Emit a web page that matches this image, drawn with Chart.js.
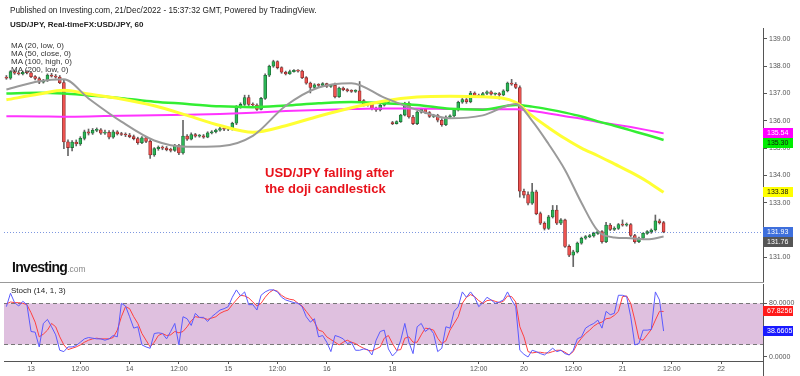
<!DOCTYPE html>
<html>
<head>
<meta charset="utf-8">
<script src="https://cdn.jsdelivr.net/npm/chart.js@4.4.0/dist/chart.umd.min.js"></script>
<style>
  body { margin: 0; background: #fff; }
  #wrap { position: relative; width: 800px; height: 376px; overflow: hidden; font-family: "Liberation Sans", Arial, sans-serif; }
  canvas { position: absolute; left: 0; }
  .t { position: absolute; white-space: nowrap; color: #222; line-height: 1; }
</style>
</head>
<body>
<div id="wrap">
  <canvas id="price" width="800" height="283" style="top:0"></canvas>
  <canvas id="stoch" width="800" height="93" style="top:283px"></canvas>
  <div style="position:absolute;left:0;top:282px;width:764px;height:1px;background:#999"></div>
  <div style="position:absolute;left:763px;top:360px;width:1px;height:16px;background:#555"></div>
  <div class="t" style="left:10px;top:7px;font-size:8.2px">Published on Investing.com, 21/Dec/2022 - 15:37:32 GMT, Powered by TradingView.</div>
  <div class="t" style="left:10px;top:21px;font-size:8px;font-weight:bold">USD/JPY, Real-timeFX:USD/JPY, 60</div>
  <div class="t" style="left:11px;top:42px;font-size:8px;color:#333">MA (20, low, 0)</div>
  <div class="t" style="left:11px;top:50px;font-size:8px;color:#333">MA (50, close, 0)</div>
  <div class="t" style="left:11px;top:58px;font-size:8px;color:#333">MA (100, high, 0)</div>
  <div class="t" style="left:11px;top:66px;font-size:8px;color:#333">MA (200, low, 0)</div>
  <div class="t" style="left:265px;top:165px;font-size:13px;font-weight:bold;color:#e8121b;line-height:16px">USD/JPY falling after<br>the doji candlestick</div>
  <div class="t" style="left:12px;top:260px;font-size:14px;font-weight:bold;color:#111;letter-spacing:-0.7px">Investing<span style="font-size:8.5px;font-weight:normal;color:#888;letter-spacing:0">.com</span></div>
  <div class="t" style="left:11px;top:287px;font-size:8px;color:#222">Stoch (14, 1, 3)</div>
</div>
<script>
// hourly candles, 12 Dec 18:00 .. 21 Dec 10:00: [open, high, low, close]
const ohlc = [
  [137.60,137.66,137.52,137.56],[137.56,137.84,137.52,137.80],[137.80,137.86,137.70,137.75],[137.75,137.80,137.68,137.72],
  [137.72,137.82,137.68,137.78],[137.78,137.84,137.72,137.76],[137.76,137.80,137.58,137.62],[137.62,137.66,137.50,137.55],
  [137.55,137.60,137.36,137.42],[137.42,137.52,137.38,137.48],[137.48,137.72,137.44,137.68],[137.68,137.74,137.60,137.64],
  [137.64,137.70,137.56,137.60],[137.60,137.66,137.36,137.40],[137.40,137.48,134.98,135.23],[135.23,135.30,134.72,135.02],
  [135.02,135.28,134.90,135.22],[135.22,135.30,135.08,135.15],[135.15,135.42,135.10,135.36],[135.36,135.66,135.30,135.60],
  [135.60,135.70,135.48,135.55],[135.55,135.72,135.50,135.65],[135.65,135.74,135.60,135.67],[135.67,135.72,135.50,135.55],
  [135.55,135.66,135.50,135.58],[135.58,135.64,135.34,135.40],[135.40,135.66,135.36,135.60],[135.60,135.64,135.48,135.52],
  [135.52,135.58,135.46,135.50],[135.50,135.56,135.42,135.48],[135.48,135.54,135.38,135.42],[135.42,135.48,135.30,135.35],
  [135.35,135.40,135.14,135.20],[135.20,135.42,135.16,135.38],[135.38,135.42,135.20,135.25],[135.25,135.30,134.62,134.75],
  [134.75,135.02,134.70,134.98],[134.98,135.08,134.92,135.03],[135.03,135.08,134.94,135.00],[135.00,135.06,134.90,134.94],
  [134.94,135.00,134.86,134.92],[134.92,135.14,134.88,135.10],[135.10,135.14,134.76,134.82],[134.82,136.02,134.78,135.44],
  [135.44,135.50,135.28,135.33],[135.33,135.56,135.30,135.50],[135.50,135.54,135.40,135.44],[135.44,135.50,135.40,135.45],
  [135.45,135.50,135.36,135.40],[135.40,135.60,135.38,135.56],[135.56,135.64,135.52,135.60],[135.60,135.70,135.56,135.66],
  [135.66,135.76,135.62,135.72],[135.72,135.76,135.64,135.69],[135.69,135.75,135.64,135.70],[135.70,135.95,135.66,135.91],
  [135.91,136.56,135.86,136.50],[136.50,136.66,136.46,136.60],[136.60,136.94,136.56,136.85],[136.85,136.94,136.56,136.60],
  [136.60,136.66,136.50,136.58],[136.58,136.62,136.38,136.42],[136.42,136.86,136.40,136.82],[136.82,137.72,136.78,137.67],
  [137.67,138.04,137.62,138.00],[138.00,138.22,137.96,138.17],[138.17,138.20,137.90,137.95],[137.95,137.98,137.74,137.78],
  [137.78,137.82,137.68,137.72],[137.72,137.86,137.70,137.80],[137.80,137.88,137.78,137.85],[137.85,137.88,137.78,137.82],
  [137.82,137.86,137.54,137.58],[137.58,137.62,137.34,137.38],[137.38,137.42,137.02,137.22],[137.22,137.36,137.18,137.32],
  [137.32,137.36,137.24,137.30],[137.30,137.40,137.26,137.36],[137.36,137.38,137.22,137.26],[137.26,137.34,137.22,137.30],
  [137.30,137.38,136.84,136.88],[136.88,137.24,136.86,137.20],[137.20,137.24,137.10,137.14],[137.14,137.18,137.06,137.10],
  [137.10,137.14,137.04,137.08],[137.08,137.14,137.04,137.10],[137.10,137.44,136.70,136.74],[136.74,136.78,136.54,136.58],
  [136.58,136.68,136.54,136.62],[136.62,136.66,136.40,136.45],[136.45,136.50,136.34,136.40],[136.40,136.60,136.36,136.57],
  [136.57,136.72,136.54,136.68],[136.68,136.78,136.64,136.74],[135.94,135.98,135.86,135.90],[135.90,136.00,135.88,135.97],
  [135.97,136.24,135.94,136.21],[136.21,136.68,136.18,136.64],[136.64,136.70,136.10,136.14],[136.14,136.20,135.86,135.90],
  [135.90,136.36,135.86,136.32],[136.32,136.46,136.28,136.42],[136.42,136.46,136.26,136.30],[136.30,136.34,136.12,136.16],
  [136.16,136.24,136.12,136.20],[136.20,136.24,135.96,136.02],[136.02,136.08,135.80,135.86],[135.86,136.18,135.82,136.14],
  [136.14,136.22,136.10,136.18],[136.18,136.44,136.14,136.40],[136.40,136.72,136.36,136.68],[136.68,136.82,136.64,136.78],
  [136.78,136.82,136.64,136.70],[136.70,137.08,136.66,137.02],[137.02,137.06,136.88,136.92],[136.92,136.98,136.86,136.90],
  [136.90,137.04,136.88,137.00],[137.00,137.10,136.96,137.06],[137.06,137.10,136.94,136.98],[136.98,137.02,136.94,137.00],
  [137.00,137.04,136.80,136.95],[136.95,137.14,136.92,137.10],[137.10,137.42,137.06,137.38],[137.38,137.52,137.30,137.34],
  [137.34,137.40,137.18,137.22],[137.22,137.28,133.20,133.42],[133.42,133.50,133.18,133.28],[133.30,133.40,132.92,132.98],
  [132.98,133.71,132.94,133.40],[133.40,133.46,132.56,132.60],[132.60,132.66,132.20,132.25],[132.25,132.30,132.00,132.06],
  [132.06,132.54,132.02,132.48],[132.48,132.90,132.44,132.73],[132.73,132.90,132.20,132.25],[132.25,132.42,132.20,132.37],
  [132.37,132.40,131.36,131.40],[131.40,131.46,131.02,131.08],[131.08,131.26,130.66,131.20],[131.20,131.56,131.16,131.52],
  [131.52,131.74,131.48,131.70],[131.70,131.80,131.66,131.76],[131.76,131.84,131.72,131.78],[131.78,131.92,131.74,131.88],
  [131.88,131.98,131.84,131.94],[131.94,131.98,131.52,131.57],[131.57,132.28,131.54,132.18],[132.18,132.24,131.98,132.02],
  [132.02,132.12,131.98,132.06],[132.06,132.24,132.02,132.20],[132.20,132.37,132.14,132.18],[132.18,132.26,132.14,132.20],
  [132.20,132.24,131.76,131.80],[131.80,131.84,131.52,131.57],[131.57,131.74,131.54,131.70],[131.70,131.90,131.66,131.88],
  [131.88,131.98,131.84,131.94],[131.94,132.04,131.88,132.00],[132.00,132.55,131.96,132.34],[132.34,132.40,132.22,132.27],
  [132.27,132.32,131.90,131.93]
];

// moving averages read at these bar positions
const maIdx  = [0, 8, 14, 20, 28, 36, 44, 52, 60, 68, 76, 84, 92, 100, 108, 116, 124, 128, 132, 136, 140, 144, 148, 152, 156, 160];
const ma20   = [137.15,137.45,137.52,136.82,135.97,135.28,135.05,135.07,135.45,136.55,137.22,137.38,136.85,136.40,136.09,136.20,136.62,136.00,135.15,134.20,133.00,131.97,131.73,131.70,131.66,131.76];
const ma50   = [136.77,136.98,137.12,136.98,136.80,136.55,136.20,135.83,135.58,135.82,136.17,136.48,136.73,136.87,136.90,136.88,136.68,136.18,135.75,135.35,135.00,134.72,134.42,134.12,133.78,133.38];
const ma100  = [137.00,137.03,137.00,136.93,136.83,136.70,136.62,136.53,136.50,136.56,136.64,136.69,136.64,136.58,136.44,136.41,136.58,136.52,136.42,136.30,136.16,135.98,135.82,135.65,135.48,135.30];
const ma200  = [136.17,136.16,136.15,136.16,136.19,136.20,136.22,136.25,136.30,136.36,136.40,136.43,136.45,136.45,136.43,136.42,136.42,136.36,136.27,136.17,136.08,135.96,135.87,135.77,135.66,135.54];

// stochastic %K and %D, one value per candle
const stochK = [75,95,81,76,83,78,38,37,15,50,56,45,33,10,8,15,15,17,22,27,29,28,27,27,25,27,32,30,80,76,
  60,43,45,18,15,13,35,36,35,27,38,50,18,60,57,47,65,59,59,53,60,65,70,72,75,89,100,91,97,78,
  78,70,92,97,100,100,97,89,85,83,81,80,75,60,52,57,30,32,22,8,32,30,27,20,22,10,10,12,11,3,
  25,38,40,12,1.5,8,25,50,22,5,45,50,38,43,35,8,13,45,43,68,75,97,89,97,89,75,81,89,85,80,
  82,85,97,85,75,10,4,0,10,8,5,3,8,13,8,10,5,3,10,27,30,43,47,50,55,43,68,63,65,92,
  92,90,60,18,20,40,40,41,97,85,38.6605];
const stochD = [79,82,81,81,80,78,66,52,30,34,40,50,45,30,18,11,13,15,18,22,25,27,28,27,27,27,29,40,60,75,
  72,60,50,35,25,15,22,32,35,32,33,38,36,38,45,54,60,59,58,56,58,60,65,68,70,78,85,92,91,88,
  82,76,80,89,96,100,98,92,88,86,85,80,76,68,60,52,40,38,30,26,22,18,22,25,22,20,16,13,10,9,
  12,15,28,32,20,10,11,28,30,22,22,33,43,42,40,28,20,24,40,50,60,80,89,93,90,84,80,84,85,83,
  81,83,91,90,82,45,30,8,6,7,7,6,6,8,10,10,7,3,8,20,28,35,40,46,50,52,57,58,62,68,
  90,91,80,55,27,25,33,41,55,68,67.8256];

const priceTicks = [131, 132, 133, 134, 135, 136, 137, 138, 139];
const stochTicks = [0, 80];
const tickIdx  = [6, 18, 30, 42, 54, 66, 78, 94, 115, 126, 138, 150, 162, 174];
const tickText = ['13', '12:00', '14', '12:00', '15', '12:00', '16', '18', '12:00', '20', '12:00', '21', '12:00', '22'];

Chart.defaults.font.family = '"Liberation Sans", Arial, sans-serif';
const AXIS = '#555';
const X_MIN = -0.58, X_MAX = 184.2;

function noPad(s) {
  s.paddingTop = 0; s.paddingBottom = 0; s.paddingLeft = 0; s.paddingRight = 0;
}

function xAxis(show) {
  return {
    type: 'linear', min: X_MIN, max: X_MAX, offset: false, display: show,
    afterBuildTicks: s => { s.ticks = tickIdx.map(v => ({ value: v })); },
    afterFit: s => { if (show) s.height = 15; noPad(s); },
    ticks: { autoSkip: false, maxRotation: 0, font: { size: 7 }, color: AXIS, padding: 1,
      callback: (v, i) => tickText[i] },
    grid: { drawOnChartArea: false, tickLength: 3, color: AXIS },
    border: { color: AXIS }
  };
}

function rightAxis(min, max, ticks, digits) {
  return {
    position: 'right', min, max,
    afterBuildTicks: s => { s.ticks = ticks.map(v => ({ value: v })); },
    afterFit: s => { s.width = 37; noPad(s); },
    ticks: { font: { size: 7 }, color: AXIS, padding: 2, callback: v => v.toFixed(digits) },
    grid: { drawOnChartArea: false, tickLength: 4, color: AXIS },
    border: { color: AXIS }
  };
}

// coloured value boxes on the right axis
function drawTags(chart, tags) {
  const { ctx, chartArea, scales } = chart;
  const items = tags.map(t => ({ ...t, y: scales.y.getPixelForValue(t.v) })).sort((a, b) => a.y - b.y);
  for (let k = 1; k < items.length; k++) {
    if (items[k].y < items[k - 1].y + 10) items[k].y = items[k - 1].y + 10;
  }
  ctx.save();
  ctx.font = '7px "Liberation Sans", Arial, sans-serif';
  ctx.textBaseline = 'middle';
  items.forEach(t => {
    ctx.fillStyle = t.bg;
    ctx.fillRect(chartArea.right, Math.round(t.y) - 5, 30, 10);
    ctx.fillStyle = t.fg;
    ctx.fillText(t.v.toFixed(t.d), chartArea.right + 4, Math.round(t.y) + 0.5);
  });
  ctx.restore();
}

const lastClose = ohlc[ohlc.length - 1][3];
const UP = '#2bb656', DOWN = '#ef5350';

new Chart(document.getElementById('price'), {
  type: 'bar',
  data: {
    datasets: [
      { type: 'line', data: maIdx.map((x, k) => ({ x, y: ma20[k] })), borderColor: '#9a9a9a', borderWidth: 2, pointRadius: 0, cubicInterpolationMode: 'monotone', order: 1 },
      { type: 'line', data: maIdx.map((x, k) => ({ x, y: ma50[k] })), borderColor: '#ffff33', borderWidth: 3, pointRadius: 0, cubicInterpolationMode: 'monotone', order: 2 },
      { type: 'line', data: maIdx.map((x, k) => ({ x, y: ma100[k] })), borderColor: '#33ee33', borderWidth: 2.5, pointRadius: 0, cubicInterpolationMode: 'monotone', order: 3 },
      { type: 'line', data: maIdx.map((x, k) => ({ x, y: ma200[k] })), borderColor: '#ff33ff', borderWidth: 2, pointRadius: 0, cubicInterpolationMode: 'monotone', order: 4 },
      { data: ohlc.map((c, i) => ({ x: i, y: [c[0], c[3]] })), grouped: false, barThickness: 3, minBarLength: 1,
        backgroundColor: ohlc.map(c => c[3] >= c[0] ? UP : DOWN),
        borderColor: ohlc.map(c => c[3] >= c[0] ? '#1d6e36' : '#8e2b2b'), borderWidth: 0.8, borderSkipped: false, order: 5 },
      { data: ohlc.map((c, i) => ({ x: i, y: [c[2], c[1]] })), grouped: false, barThickness: 1, backgroundColor: '#666', order: 6 }
    ]
  },
  options: {
    responsive: false, animation: false,
    layout: { padding: { left: 4, top: 28, right: 0, bottom: 0 } },
    plugins: { legend: { display: false }, tooltip: { enabled: false } },
    scales: { x: xAxis(false), y: rightAxis(130.06, 139.4, priceTicks, 2) }
  },
  plugins: [{
    id: 'lastLine',
    beforeDatasetsDraw(chart) {
      const { ctx, chartArea, scales } = chart;
      const y = Math.round(scales.y.getPixelForValue(lastClose)) + 0.5;
      ctx.save();
      ctx.strokeStyle = '#7d97e0';
      ctx.setLineDash([1, 2]);
      ctx.beginPath(); ctx.moveTo(chartArea.left, y); ctx.lineTo(chartArea.right, y); ctx.stroke();
      ctx.restore();
    },
    afterDraw(chart) {
      drawTags(chart, [
        { v: ma200[ma200.length - 1], bg: '#ff00ff', fg: '#fff', d: 2 },
        { v: ma100[ma100.length - 1], bg: '#00ee00', fg: '#111', d: 2 },
        { v: ma50[ma50.length - 1], bg: '#ffff00', fg: '#111', d: 2 },
        { v: lastClose, bg: '#3e6fdc', fg: '#fff', d: 2 },
        { v: ma20[ma20.length - 1], bg: '#555', fg: '#fff', d: 2 }
      ]);
    }
  }]
});

new Chart(document.getElementById('stoch'), {
  type: 'line',
  data: {
    datasets: [
      { data: stochK.map((v, i) => ({ x: i, y: v })), borderColor: '#5a5aff', borderWidth: 1, pointRadius: 0, tension: 0 },
      { data: stochD.map((v, i) => ({ x: i, y: v })), borderColor: '#ff4040', borderWidth: 1, pointRadius: 0, tension: 0 }
    ]
  },
  options: {
    responsive: false, animation: false,
    layout: { padding: { left: 4, top: 1, right: 0, bottom: 0 } },
    plugins: { legend: { display: false }, tooltip: { enabled: false } },
    scales: { x: xAxis(true), y: rightAxis(-6, 108.8, stochTicks, 4) }
  },
  plugins: [{
    id: 'band',
    beforeDatasetsDraw(chart) {
      const { ctx, chartArea, scales } = chart;
      const y80 = Math.round(scales.y.getPixelForValue(80)) + 0.5;
      const y20 = Math.round(scales.y.getPixelForValue(20)) + 0.5;
      ctx.save();
      ctx.fillStyle = '#dfc0df';
      ctx.fillRect(chartArea.left, y80, chartArea.right - chartArea.left, y20 - y80);
      ctx.strokeStyle = '#777';
      ctx.setLineDash([4, 3]);
      ctx.beginPath();
      ctx.moveTo(chartArea.left, y80); ctx.lineTo(chartArea.right, y80);
      ctx.moveTo(chartArea.left, y20); ctx.lineTo(chartArea.right, y20);
      ctx.stroke();
      ctx.restore();
    },
    afterDraw(chart) {
      drawTags(chart, [
        { v: stochD[stochD.length - 1], bg: '#ff1a1a', fg: '#fff', d: 4 },
        { v: stochK[stochK.length - 1], bg: '#1a1aff', fg: '#fff', d: 4 }
      ]);
    }
  }]
});
</script>
</body>
</html>
